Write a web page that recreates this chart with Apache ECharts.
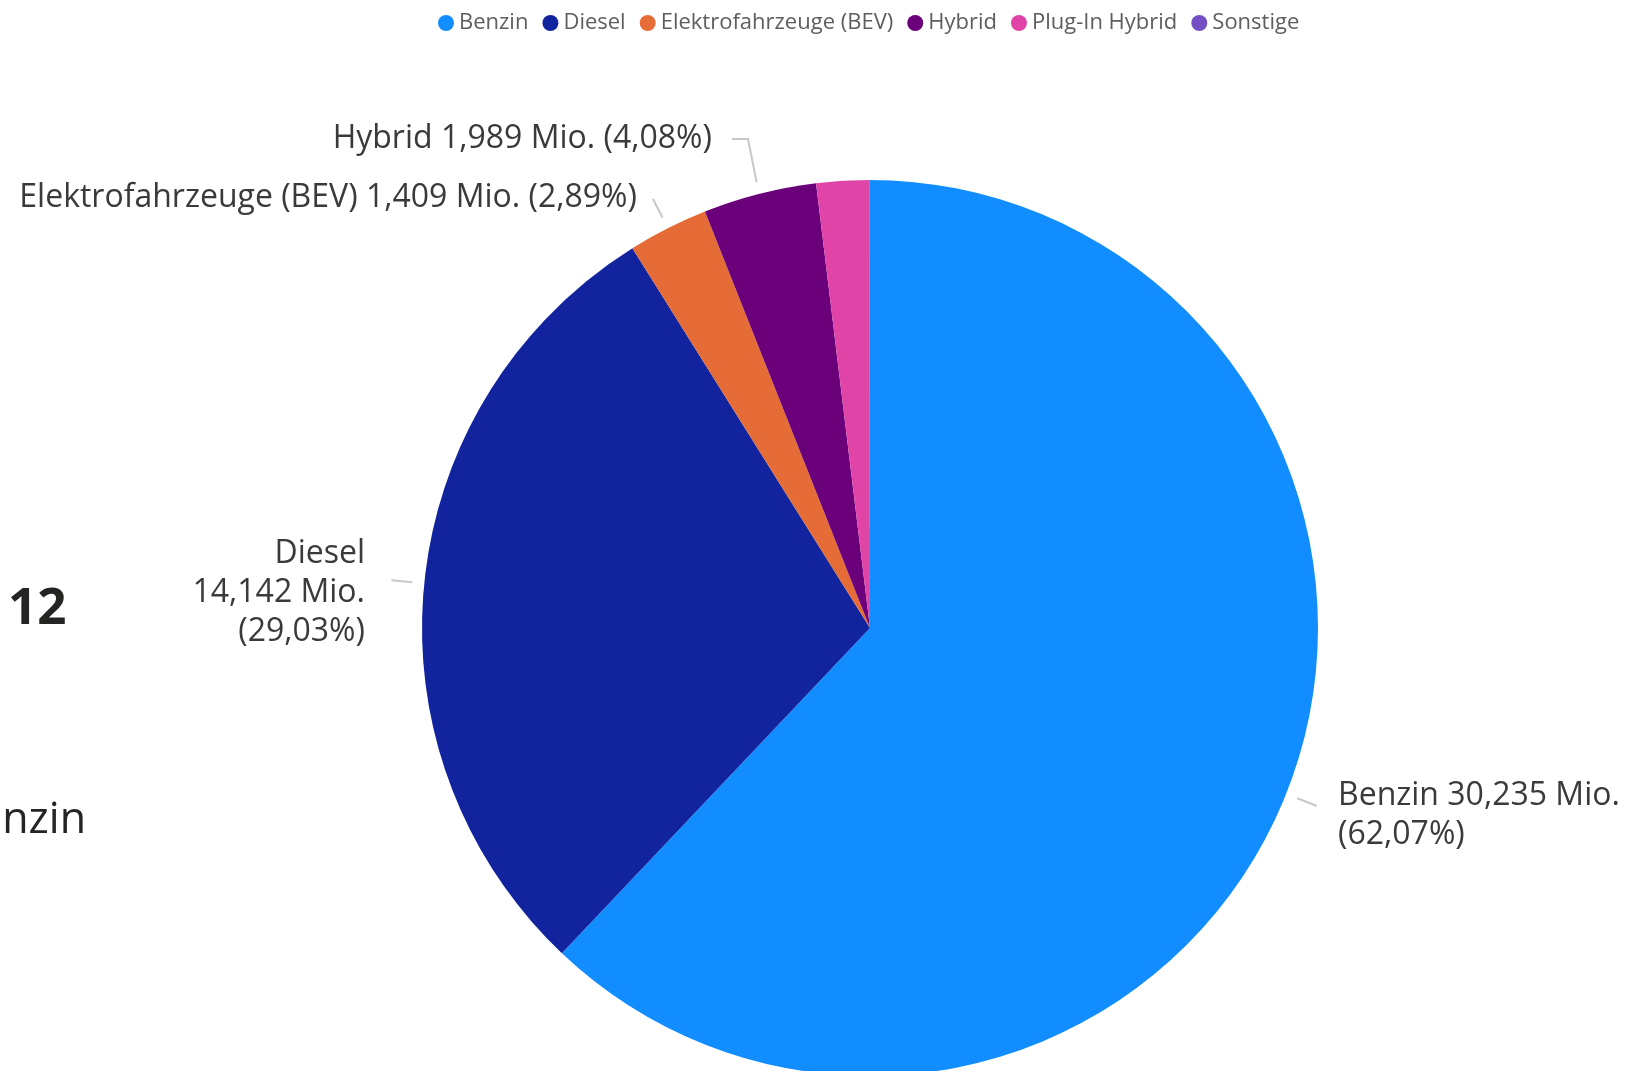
<!DOCTYPE html>
<html>
<head>
<meta charset="utf-8">
<title>Pkw-Bestand nach Kraftstoffart</title>
<script src="https://cdn.jsdelivr.net/npm/echarts@6/dist/echarts.min.js"></script>
<style>
  html, body { margin: 0; padding: 0; background: #ffffff; }
  #chart { width: 1634px; height: 1071px; }
</style>
</head>
<body>
<div id="chart"></div>
<script>
// Fahrzeugbestand nach Kraftstoffart (Mio.)
const categories = ['Benzin', 'Diesel', 'Elektrofahrzeuge (BEV)', 'Hybrid', 'Plug-In Hybrid', 'Sonstige'];
const values = [30.235, 14.142, 1.409, 1.989, 0.925, 0.011];
const colors = ['#118DFF', '#12239E', '#E66C37', '#6B007B', '#E044A7', '#744EC2'];
// which slices carry a data label
const showLabel = [true, true, true, true, false, false];

// card fragments at the left edge
const cardValue = '12';
const cardCaption = 'Benzin';

const CX = 870, CY = 628, R = 448;
const total = values.reduce((a, b) => a + b, 0);

// label placement and line breaks for the labelled slices
const labelPlacement = {
  'Benzin': { x: 1338, y: 815, align: 'left', split: [' ', '\n'] },
  'Diesel': { x: 365, y: 593, align: 'right', split: ['\n', '\n'] },
  'Elektrofahrzeuge (BEV)': { x: 637, y: 198, align: 'right', split: [' ', ' '] },
  'Hybrid': { x: 712, y: 139, align: 'right', split: [' ', ' '], elbow: true }
};

const de = (n, d) => Number(n).toFixed(d).replace('.', ',');

const chart = echarts.init(document.getElementById('chart'), null, { renderer: 'canvas' });

const pieData = categories.map((name, i) => ({
  name: name,
  value: values[i],
  itemStyle: { color: colors[i] },
  label: { show: showLabel[i] },
  labelLine: { show: showLabel[i] }
}));

chart.setOption({
  animation: false,
  backgroundColor: '#ffffff',
  legend: {
    data: categories,
    left: 433,
    top: 7,
    icon: 'circle',
    itemWidth: 16,
    itemHeight: 16,
    itemGap: 14,
    textStyle: { fontFamily: 'Open Sans', fontSize: 22, color: '#605E5C' }
  },
  graphic: [
    {
      type: 'text',
      style: {
        x: 8, y: 609, text: cardValue,
        font: 'bold 51px "Open Sans"', fill: '#252423',
        textAlign: 'left', textVerticalAlign: 'middle'
      }
    },
    {
      type: 'text',
      style: {
        x: 86, y: 821, text: cardCaption,
        font: '43px "Open Sans"', fill: '#252423',
        textAlign: 'right', textVerticalAlign: 'middle'
      }
    }
  ],
  series: [{
    type: 'pie',
    center: [CX, CY],
    radius: R,
    startAngle: 90,
    clockwise: true,
    avoidLabelOverlap: false,
    itemStyle: { borderWidth: 0 },
    emphasis: { disabled: true },
    label: {
      position: 'outside',
      fontFamily: 'Open Sans',
      fontSize: 32,
      lineHeight: 39,
      color: '#3a3a3a',
      formatter: function (p) {
        const cfg = labelPlacement[p.name];
        const s = cfg ? cfg.split : [' ', ' '];
        const pct = p.value / total * 100;
        return p.name + s[0] + de(p.value, 3) + ' Mio.' + s[1] + '(' + de(pct, 2) + '%)';
      }
    },
    labelLine: {
      show: true,
      lineStyle: { color: '#c8c8c8', width: 2 }
    },
    labelLayout: function (params) {
      const name = categories[params.dataIndex];
      const cfg = labelPlacement[name];
      if (!cfg || !params.labelLinePoints) return {};
      const e = params.labelLinePoints[0];
      const dx = e[0] - CX, dy = e[1] - CY;
      const len = Math.hypot(dx, dy) || 1;
      const ux = dx / len, uy = dy / len;
      const start = [CX + ux * (R + 12), CY + uy * (R + 12)];
      let pts;
      if (cfg.elbow) {
        const bend = [cfg.x + 36, cfg.y];
        pts = [start, bend, [cfg.x + 20, cfg.y]];
      } else {
        const end = [CX + ux * (R + 33), CY + uy * (R + 33)];
        pts = [start, end, end];
      }
      return {
        x: cfg.x,
        y: cfg.y,
        align: cfg.align,
        verticalAlign: 'middle',
        labelLinePoints: pts
      };
    },
    data: pieData
  }]
});
</script>
</body>
</html>
